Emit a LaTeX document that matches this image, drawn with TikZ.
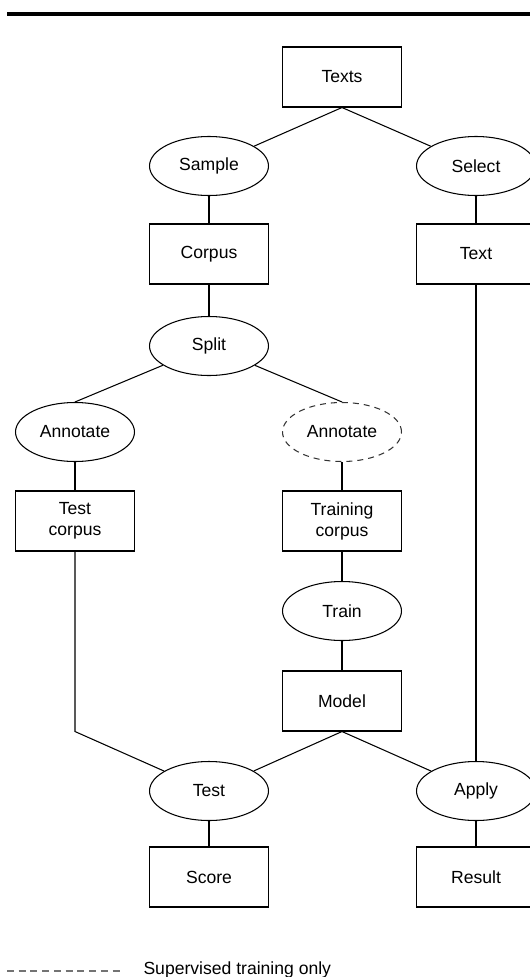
\documentclass[tikz,border=0pt]{standalone}
\usepackage{fontspec}
\setmainfont{Liberation Sans}
\usepackage{xcolor}
\usepackage{tikz}
\usetikzlibrary{positioning,calc,shapes.geometric}

\begin{document}
\begin{tikzpicture}[
            x=0.02cm, y=-0.02cm,
            every node/.style={font=\fontsize{10}{12}\selectfont},
            every path/.style={line width=0.6pt},
            box/.style={draw, rectangle, minimum width=2.38cm, minimum height=1.2cm, align=center},
            proc/.style={draw, ellipse, minimum width=2.38cm, minimum height=1.18cm, align=center},
            optional/.style={proc, dashed, dash pattern=on 0.12cm off 0.1cm, draw=black!80},
            legendline/.style={draw=black!55, dash pattern=on 0.14cm off 0.095cm}
            ]
            \useasboundingbox (0,0) rectangle (529,977);

            % Rule at the top
            \fill (7,11.8) rectangle (535,16.2);

            % Nodes with manual coordinates
            \node[box] (texts) at (342,77) {Texts};
            \node[proc] (sample) at (209,166) {Sample};
            \node[proc] (select) at (476,166) {Select};
            \node[box] (corpus) at (209,254) {Corpus};
            \node[box] (text) at (476,254) {Text};
            \node[proc] (split) at (209,346) {Split};
            \node[proc] (annotest) at (75,432) {Annotate};
            \node[optional] (annotrain) at (342,432) {Annotate};
            \node[box] (testcorpus) at (75,521) {Test\\corpus};
            \node[box] (traincorpus) at (342,521) {Training\\corpus};
            \node[proc] (train) at (342,611) {Train};
            \node[box] (model) at (342,701) {Model};
            \node[proc] (test) at (209,791) {Test};
            \node[proc] (apply) at (476,791) {Apply};
            \node[box] (score) at (209,877) {Score};
            \node[box] (result) at (476,877) {Result};
            \coordinate (bend) at (testcorpus.south |- model.south);

            % Lines
            \draw (texts.south) -- (sample);
            \draw (texts.south) -- (select);
            \draw (sample) -- (corpus);
            \draw (select) -- (text);
            \draw (corpus) -- (split);
            \draw (split) -- (annotest.north);
            \draw (split) -- (annotrain.north);
            \draw (annotest) -- (testcorpus);
            \draw (annotrain) -- (traincorpus);
            \draw (traincorpus) -- (train);
            \draw (train) -- (model);
            \draw (testcorpus.south) -- (bend) -- (test);
            \draw (model.south) -- (test);
            \draw (model.south) -- (apply);
            \draw (text) -- (apply);
            \draw (test) -- (score);
            \draw (apply) -- (result);

            % Legend
            \coordinate (legstart) at (7,971);
            \coordinate (legend) at (120,971);
            \draw[legendline] (legstart) -- (legend);
            \node[anchor=base west, inner sep=0pt] (legtext) at (143,974) {Supervised training only};
\end{tikzpicture}
\end{document}
